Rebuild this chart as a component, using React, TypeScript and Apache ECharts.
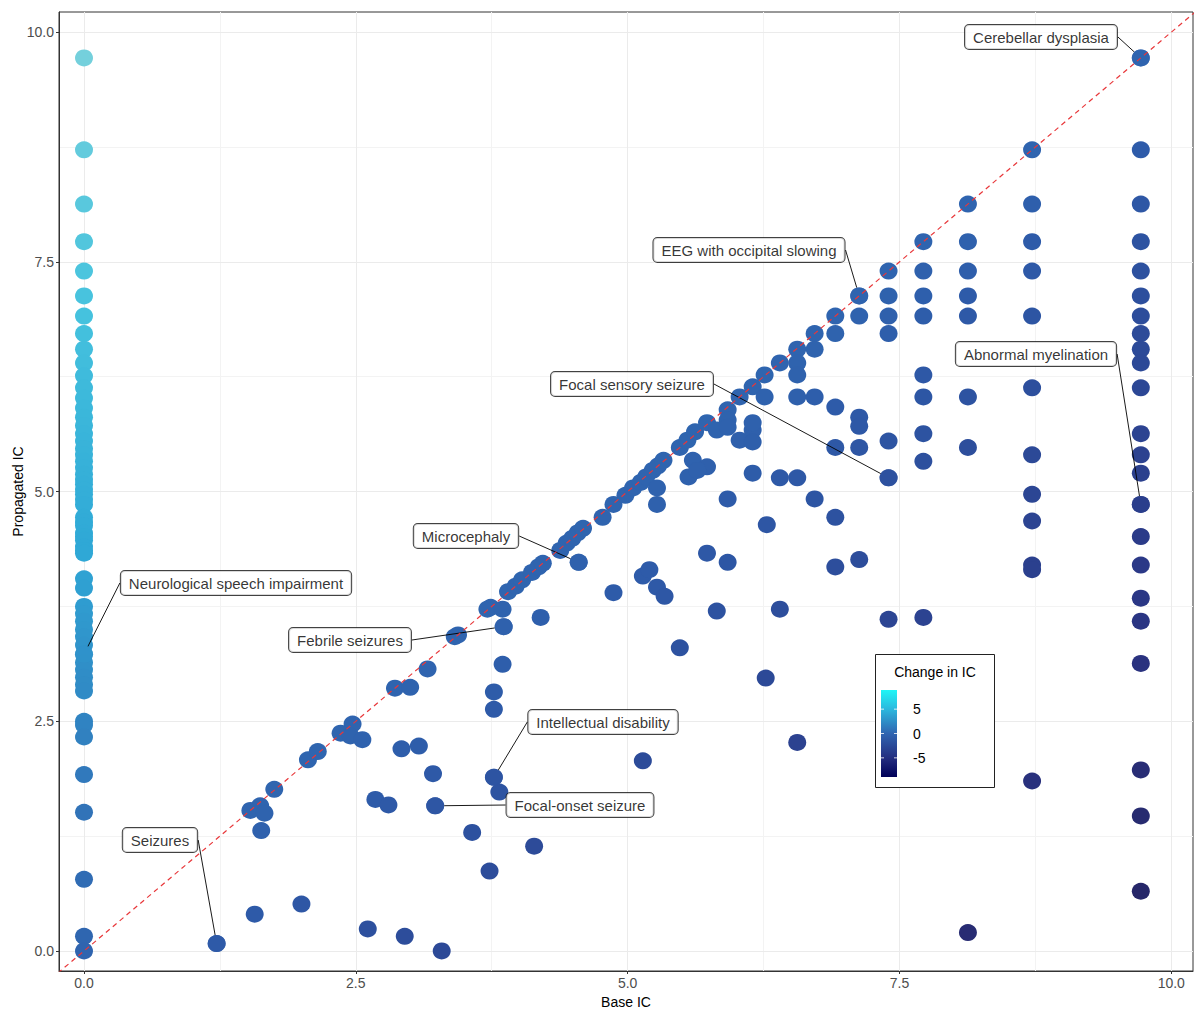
import React, { useEffect, useRef } from "react";
import * as echarts from "echarts";

// ---------- axis ticks ----------
const xTicks = [0, 2.5, 5, 7.5, 10];
const xMinorTicks = [1.25, 3.75, 6.25, 8.75];
const yTicks = [0, 2.5, 5, 7.5, 10];
const yMinorTicks = [1.25, 3.75, 6.25, 8.75];
const legendTicks = [5, 0, -5];

// ---------- data ----------
// Terms whose base IC is 0: propagated IC values
const baseZeroPropagated = [
  9.72, 8.72, 8.13, 7.72, 7.4, 7.13, 6.91, 6.72, 6.55, 6.4, 6.26, 6.13, 6.02, 5.91, 5.81,
  5.72, 5.63, 5.55, 5.47, 5.4, 5.33, 5.26, 5.19, 5.13, 5.08, 5.02, 4.97, 4.91, 4.86, 4.72,
  4.67, 4.63, 4.55, 4.51, 4.47, 4.4, 4.36, 4.33, 4.05, 3.95, 3.75, 3.67, 3.59, 3.5, 3.42,
  3.33, 3.23, 3.14, 3.06, 2.98, 2.9, 2.83, 2.5, 2.46, 2.33, 1.92, 1.51, 0.78, 0.16, 0,
];

// [base IC, propagated IC]
const lowRangeTerms: [number, number][] = [
  [1.22, 0.08], [1.57, 0.4], [2.0, 0.51], [2.61, 0.24], [2.95, 0.16], [3.29, 0.0],
  [1.53, 1.53], [1.62, 1.58], [1.66, 1.5], [1.63, 1.31], [1.75, 1.76], [2.06, 2.08],
  [2.15, 2.17], [2.36, 2.37], [2.47, 2.47], [2.45, 2.34], [2.56, 2.3], [2.92, 2.2],
  [3.08, 2.23], [3.21, 1.93], [2.68, 1.65], [2.8, 1.59], [3.23, 1.58], [2.86, 2.86],
  [3.0, 2.87], [3.16, 3.07], [3.77, 1.89], [3.82, 1.73], [3.57, 1.29], [4.14, 1.14],
  [3.73, 0.87], [5.14, 2.07], [6.56, 2.27],
];

const midRangeTerms: [number, number][] = [
  [3.41, 3.42], [3.44, 3.44], [3.71, 3.72], [3.74, 3.74], [3.85, 3.72], [3.86, 3.53],
  [4.2, 3.63], [3.85, 3.12], [3.77, 2.82], [3.77, 2.63], [3.9, 3.91], [3.97, 3.97],
  [4.03, 4.04], [4.12, 4.12], [4.18, 4.18], [4.22, 4.22], [4.38, 4.36], [4.44, 4.44],
  [4.49, 4.49], [4.54, 4.55], [4.59, 4.6], [4.55, 4.23], [4.77, 4.72], [4.87, 4.86],
  [4.98, 4.96], [5.05, 5.04], [5.12, 5.1], [5.17, 5.16], [5.23, 5.23], [5.28, 5.28],
  [5.33, 5.34], [5.27, 5.04], [5.27, 4.86], [5.48, 5.48], [5.55, 5.56], [5.62, 5.65],
  [5.73, 5.75], [5.82, 5.67], [5.92, 5.89], [5.92, 5.78], [5.92, 5.7], [6.03, 6.03],
  [6.15, 6.14], [6.26, 6.27], [6.4, 6.4], [6.56, 6.55], [6.26, 6.03], [6.56, 6.03],
  [5.6, 5.34], [5.73, 5.27], [5.56, 5.16], [5.64, 5.23], [6.03, 5.56], [6.15, 5.67],
  [6.15, 5.75], [6.15, 5.54], [6.15, 5.2], [6.4, 5.15], [6.56, 5.15], [5.92, 4.92],
  [6.28, 4.64], [5.73, 4.33], [5.92, 4.23], [5.14, 4.08], [5.2, 4.15], [5.27, 3.96],
  [5.34, 3.86], [4.87, 3.9], [5.82, 3.7], [6.4, 3.72], [5.48, 3.3], [6.27, 2.97],
];

const highRangeTerms: [number, number][] = [
  [9.72, 9.72], [8.72, 8.72], [9.72, 8.72], [8.13, 8.13], [8.72, 8.13], [9.72, 8.13],
  [7.72, 7.72], [8.13, 7.72], [8.72, 7.72], [9.72, 7.72], [7.4, 7.4], [7.72, 7.4],
  [8.13, 7.4], [8.72, 7.4], [9.72, 7.4], [7.13, 7.13], [7.4, 7.13], [7.72, 7.13],
  [8.13, 7.13], [9.72, 7.13], [6.91, 6.91], [7.13, 6.91], [7.4, 6.91], [7.72, 6.91],
  [8.13, 6.91], [8.72, 6.91], [9.72, 6.91], [6.72, 6.72], [6.91, 6.72], [7.4, 6.72],
  [9.72, 6.72], [6.72, 6.55], [9.72, 6.55], [6.56, 6.4], [9.72, 6.4], [6.56, 6.27],
  [7.72, 6.27], [8.72, 6.13], [9.72, 6.13], [6.72, 6.03], [7.72, 6.03], [8.13, 6.03],
  [6.91, 5.92], [7.13, 5.81], [7.13, 5.71], [7.72, 5.63], [9.72, 5.63], [7.4, 5.55],
  [6.91, 5.48], [7.13, 5.48], [8.13, 5.48], [7.72, 5.33], [7.4, 5.15], [8.72, 5.4],
  [9.72, 5.4], [9.72, 5.2], [8.72, 4.97], [9.72, 4.86], [8.72, 4.68], [9.72, 4.51],
  [6.72, 4.92], [6.91, 4.72], [8.72, 4.2], [8.72, 4.15], [9.72, 4.2], [6.91, 4.18],
  [7.13, 4.26], [9.72, 3.84], [9.72, 3.59], [7.4, 3.61], [7.72, 3.63], [9.72, 3.13],
  [8.72, 1.85], [9.72, 1.97], [9.72, 1.47], [9.72, 0.65], [8.13, 0.2],
];

// annotated terms
const annotationNames = [
  "Cerebellar dysplasia",
  "EEG with occipital slowing",
  "Abnormal myelination",
  "Focal sensory seizure",
  "Microcephaly",
  "Neurological speech impairment",
  "Febrile seizures",
  "Intellectual disability",
  "Focal-onset seizure",
  "Seizures",
];
const annotationBase = [9.72, 7.13, 9.72, 7.4, 4.55, 0, 3.86, 3.77, 3.23, 1.22];
const annotationPropagated = [9.72, 7.13, 4.86, 5.15, 4.23, 3.23, 3.53, 1.89, 1.58, 0.08];

// label box centres (pixels) for the annotations
const annotationLabelCenters: [number, number][] = [
  [1041, 37],
  [749, 250],
  [1036, 354],
  [632, 384],
  [466, 536],
  [236, 583],
  [350, 640],
  [603, 722],
  [580, 805],
  [160, 840],
];

// ---------- colours ----------
const changeMin = -9.07;
const changeMax = 9.72;
const pointColors = [
  "#262769",
  "#2a3381",
  "#2c4694",
  "#2e5ba9",
  "#3174b9",
  "#2fa8d6",
  "#46c3de",
  "#74d0dc",
];
const legendMin = -8.93;
const legendMax = 8.93;
const legendGradient = [
  { offset: 0, color: "#1ef6f6" },
  { offset: 0.22, color: "#2bb8de" },
  { offset: 0.5, color: "#3065b1" },
  { offset: 0.78, color: "#242e80" },
  { offset: 1, color: "#000058" },
];

const FONT = "'Liberation Sans', Arial, Helvetica, sans-serif";

export default function App() {
  const ref = useRef<HTMLDivElement>(null);

  useEffect(() => {
    if (!ref.current) return;
    const chart = echarts.init(ref.current, undefined, { renderer: "svg" });

    const allPairs: [number, number][] = [
      ...baseZeroPropagated.map((p) => [0, p] as [number, number]),
      ...lowRangeTerms,
      ...midRangeTerms,
      ...highRangeTerms,
    ];
    const pointData = allPairs.map(([b, p]) => [b, p, +(p - b).toFixed(3)]);

    const annotationData = annotationNames.map((name, i) => ({
      name,
      value: [
        annotationBase[i],
        annotationPropagated[i],
        +(annotationPropagated[i] - annotationBase[i]).toFixed(3),
      ],
    }));

    // legend layout
    const barX = 881;
    const barY = 690;
    const barW = 16;
    const barH = 87;
    const legendPos = (v: number) => barY + ((legendMax - v) / (legendMax - legendMin)) * barH;

    const legendGraphics: any[] = [
      {
        type: "rect",
        z: 100,
        shape: { x: 875.5, y: 654.5, width: 119, height: 133 },
        style: { fill: "#ffffff", stroke: "#222", lineWidth: 1 },
      },
      {
        type: "text",
        z: 101,
        style: {
          text: "Change in IC",
          x: 935,
          y: 672,
          align: "center",
          verticalAlign: "middle",
          fontSize: 14,
          fontFamily: FONT,
          fill: "#000",
        },
      },
      {
        type: "rect",
        z: 101,
        shape: { x: barX, y: barY, width: barW, height: barH },
        style: {
          fill: new echarts.graphic.LinearGradient(0, 0, 0, 1, legendGradient),
        },
      },
    ];
    legendTicks.forEach((v) => {
      const y = legendPos(v);
      legendGraphics.push(
        {
          type: "line",
          z: 102,
          shape: { x1: barX, y1: y, x2: barX + 3, y2: y },
          style: { stroke: "#ffffff", lineWidth: 0.8 },
        },
        {
          type: "line",
          z: 102,
          shape: { x1: barX + barW - 3, y1: y, x2: barX + barW, y2: y },
          style: { stroke: "#ffffff", lineWidth: 0.8 },
        },
        {
          type: "text",
          z: 102,
          style: {
            text: String(v),
            x: 913,
            y,
            align: "left",
            verticalAlign: "middle",
            fontSize: 14,
            fontFamily: FONT,
            fill: "#000",
          },
        }
      );
    });

    const fmt = (v: number) => v.toFixed(1);

    const option: any = {
      animation: false,
      backgroundColor: "#ffffff",
      textStyle: { fontFamily: FONT },
      grid: {
        left: 59,
        right: 1,
        top: 12,
        bottom: 39,
        outerBoundsMode: "none",
        containLabel: false,
        show: true,
        borderColor: "#333",
        borderWidth: 1,
        backgroundColor: "transparent",
      },
      xAxis: [
        {
          type: "value",
          min: -0.23,
          max: 10.2,
          name: "Base IC",
          nameLocation: "middle",
          nameGap: 24,
          nameMoveOverlap: false,
          nameTextStyle: { fontSize: 14, color: "#000", fontFamily: FONT },
          axisLine: { show: true, onZero: false, lineStyle: { color: "#333", width: 1 } },
          axisTick: { show: true, length: 3, lineStyle: { color: "#333" }, customValues: xTicks },
          axisLabel: {
            show: true,
            customValues: xTicks,
            formatter: fmt,
            fontSize: 14,
            color: "#4d4d4d",
            margin: 5,
            fontFamily: FONT,
          },
          splitLine: { show: true, lineStyle: { color: "#ebebeb", width: 1 } },
          z: 1,
        },
        {
          type: "value",
          min: -0.23,
          max: 10.2,
          position: "top",
          axisLine: { show: false, onZero: false },
          axisTick: { show: false, customValues: xMinorTicks },
          axisLabel: { show: false, customValues: xMinorTicks },
          splitLine: { show: true, lineStyle: { color: "#f3f3f3", width: 1 } },
          z: 0,
        },
      ],
      yAxis: [
        {
          type: "value",
          min: -0.218,
          max: 10.22,
          name: "Propagated IC",
          nameLocation: "middle",
          nameGap: 34,
          nameMoveOverlap: false,
          nameTextStyle: { fontSize: 14, color: "#000", fontFamily: FONT },
          axisLine: { show: true, onZero: false, lineStyle: { color: "#333", width: 1 } },
          axisTick: { show: true, length: 3, lineStyle: { color: "#333" }, customValues: yTicks },
          axisLabel: {
            show: true,
            customValues: yTicks,
            formatter: fmt,
            fontSize: 14,
            color: "#4d4d4d",
            margin: 5,
            fontFamily: FONT,
          },
          splitLine: { show: true, lineStyle: { color: "#ebebeb", width: 1 } },
          z: 1,
        },
        {
          type: "value",
          min: -0.218,
          max: 10.22,
          position: "right",
          axisLine: { show: false, onZero: false },
          axisTick: { show: false, customValues: yMinorTicks },
          axisLabel: { show: false, customValues: yMinorTicks },
          splitLine: { show: true, lineStyle: { color: "#f3f3f3", width: 1 } },
          z: 0,
        },
      ],
      visualMap: [
        {
          type: "continuous",
          show: false,
          dimension: 2,
          min: changeMin,
          max: changeMax,
          seriesIndex: [0, 1],
          inRange: { color: pointColors },
        },
      ],
      graphic: legendGraphics,
      series: [
        {
          type: "scatter",
          xAxisIndex: 0,
          yAxisIndex: 0,
          symbol: "circle",
          symbolSize: [18, 17],
          data: pointData,
          itemStyle: { opacity: 1 },
          silent: true,
          z: 2,
        },
        {
          type: "scatter",
          xAxisIndex: 0,
          yAxisIndex: 0,
          symbol: "circle",
          symbolSize: [18, 17],
          data: annotationData,
          silent: true,
          z: 3,
          label: {
            show: true,
            formatter: "{b}",
            fontSize: 15,
            fontFamily: FONT,
            color: "#000",
            backgroundColor: "#ffffff",
            borderColor: "#111",
            borderWidth: 1,
            borderRadius: 4,
            padding: [5, 8, 4, 8],
          },
          labelLine: {
            show: true,
            showAbove: false,
            lineStyle: { color: "#000", width: 0.9 },
          },
          labelLayout: (params: any) => {
            const c = annotationLabelCenters[params.dataIndex];
            return {
              x: c[0],
              y: c[1],
              align: "center",
              verticalAlign: "middle",
              hideOverlap: false,
            };
          },
        },
        {
          type: "line",
          xAxisIndex: 0,
          yAxisIndex: 0,
          data: [
            [-1, -1],
            [11, 11],
          ],
          symbol: "none",
          silent: true,
          clip: true,
          z: 4,
          lineStyle: { color: "#e8373a", width: 1.2, type: [5, 4] },
        },
      ],
    };

    chart.setOption(option);
    return () => {
      chart.dispose();
    };
  }, []);

  return (
    <div
      ref={ref}
      style={{ position: "fixed", left: 0, top: 0, width: 1194, height: 1010, background: "#fff" }}
    />
  );
}
